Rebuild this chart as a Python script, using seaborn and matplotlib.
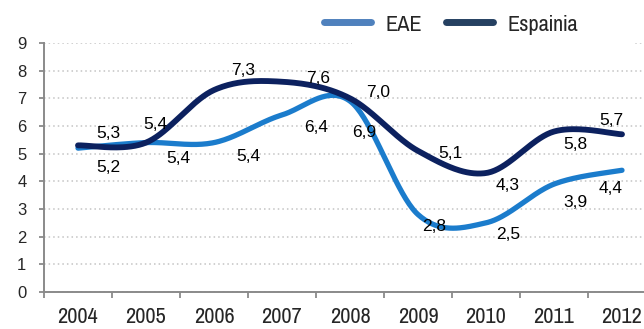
import numpy as np
import pandas as pd
import matplotlib
matplotlib.use("Agg")
import matplotlib.pyplot as plt
from matplotlib import font_manager
from matplotlib.patches import Rectangle
import seaborn as sns

# Data
years = ["2004", "2005", "2006", "2007", "2008", "2009", "2010", "2011", "2012"]
eae = [5.2, 5.4, 5.4, 6.4, 6.9, 2.8, 2.5, 3.9, 4.4]
espainia = [5.3, 5.4, 7.3, 7.6, 7.0, 5.1, 4.3, 5.8, 5.7]
series_names = ["EAE", "Espainia"]

# Label placement (pixel offsets from each point, x right / y down)
eae_label_offsets = [(30, 19), (32, 16), (34, 14), (34, 13), (14, 31),
                     (16, 12), (22, 12), (21, 18), (-11, 18)]
esp_label_offsets = [(30, -12), (9, -18), (29, -20), (36, -3), (28, -6),
                     (32, 3), (22, 12), (21, 13), (-11, -14)]

sns.set_style("white")
available = {f.name for f in font_manager.fontManager.ttflist}
narrow = next((n for n in ["Liberation Sans Narrow", "Pragati Narrow", "Roboto Condensed",
                           "Archivo Narrow", "Liberation Sans"] if n in available),
              "DejaVu Sans")
plt.rcParams["font.family"] = ["Liberation Sans", "DejaVu Sans"]

LINE_EAE = "#1b7ccc"
LINE_ESP = "#0c215f"
LEG_EAE = "#4f81bd"
LEG_ESP = "#254061"
AXIS_GREY = "#8a8a8a"
NARROW_SIZE = 17.5


def smooth(values, n=40):
    """Bezier smoothing through every point (Catmull-Rom style control points)."""
    y = np.asarray(values, dtype=float)
    x = np.arange(len(y), dtype=float)
    t = np.linspace(0, 1, n)
    xs, ys = [], []
    for i in range(len(y) - 1):
        i0 = max(i - 1, 0)
        i3 = min(i + 2, len(y) - 1)
        p0, p1, p2, p3 = (np.array([x[k], y[k]]) for k in (i0, i, i + 1, i3))
        c1 = p1 + (p2 - p0) / 6.0
        c2 = p2 - (p3 - p1) / 6.0
        pts = ((1 - t) ** 3)[:, None] * p1 + (3 * (1 - t) ** 2 * t)[:, None] * c1 \
            + (3 * (1 - t) * t ** 2)[:, None] * c2 + (t ** 3)[:, None] * p2
        if i > 0:
            pts = pts[1:]
        xs.append(pts[:, 0])
        ys.append(pts[:, 1])
    return np.concatenate(xs), np.concatenate(ys)


fig = plt.figure(figsize=(6.44, 3.29), dpi=100)
ax = fig.add_axes([44 / 644, 37 / 329, 612 / 644, 249 / 329])

for name, vals, color, lw in [("EAE", eae, LINE_EAE, 3.8), ("Espainia", espainia, LINE_ESP, 4.2)]:
    sx, sy = smooth(vals)
    df = pd.DataFrame({"x": sx, "y": sy})
    sns.lineplot(data=df, x="x", y="y", sort=False, estimator=None, color=color,
                 linewidth=lw, ax=ax, solid_capstyle="round", zorder=3)

# Value labels
for vals, offs in [(eae, eae_label_offsets), (espainia, esp_label_offsets)]:
    for i, (v, (dx, dy)) in enumerate(zip(vals, offs)):
        ax.annotate(f"{v:.1f}".replace(".", ","), xy=(i, v), xytext=(dx, -dy),
                    textcoords="offset pixels", ha="center", va="center",
                    fontsize=12.5, color="black", zorder=4)

ax.set_xlim(-0.5, 8.5)
ax.set_ylim(0, 9)
ax.set_xlabel("")
ax.set_ylabel("")

# Axes styling
ax.set_yticks(range(0, 10))
ax.set_yticklabels([str(v) for v in range(0, 10)], fontsize=12)
ax.tick_params(axis="y", length=3.6, width=1.3, color=AXIS_GREY, pad=9, left=True)

ax.set_xticks(np.arange(-0.5, 9.0, 1.0))
ax.set_xticklabels([])
ax.set_xticks(np.arange(len(years)), minor=True)
ax.set_xticklabels(years, minor=True, fontsize=NARROW_SIZE, family=[narrow, "DejaVu Sans"])
ax.tick_params(axis="x", which="major", length=4.3, width=1.3, color=AXIS_GREY, bottom=True)
ax.tick_params(axis="x", which="minor", length=0, pad=11)

for side in ["top", "right"]:
    ax.spines[side].set_visible(False)
for side in ["left", "bottom"]:
    ax.spines[side].set_color(AXIS_GREY)
    ax.spines[side].set_linewidth(1.4)

ax.set_axisbelow(True)
ax.yaxis.grid(True, color="#c4c4c4", linestyle=(0, (1, 2)), linewidth=1.1)
ax.xaxis.grid(False)

# Clear area behind the legend
fig.patches.append(Rectangle((352 / 644, 1 - 49 / 329), (633 - 352) / 644, 20 / 329,
                             transform=fig.transFigure, facecolor="white",
                             edgecolor="none", zorder=1))

handles = [plt.Line2D([], [], color=LEG_EAE, linewidth=5),
           plt.Line2D([], [], color=LEG_ESP, linewidth=5)]
leg = fig.legend(handles, series_names, loc="center left",
                 bbox_to_anchor=(312 / 644, 1 - 24 / 329), bbox_transform=fig.transFigure,
                 ncol=2, frameon=False, borderpad=0, handlelength=1.93,
                 handletextpad=0.58, columnspacing=1.0,
                 prop={"family": [narrow, "DejaVu Sans"], "size": NARROW_SIZE})
leg.set_zorder(5)

fig.savefig("out.png", dpi=100)
